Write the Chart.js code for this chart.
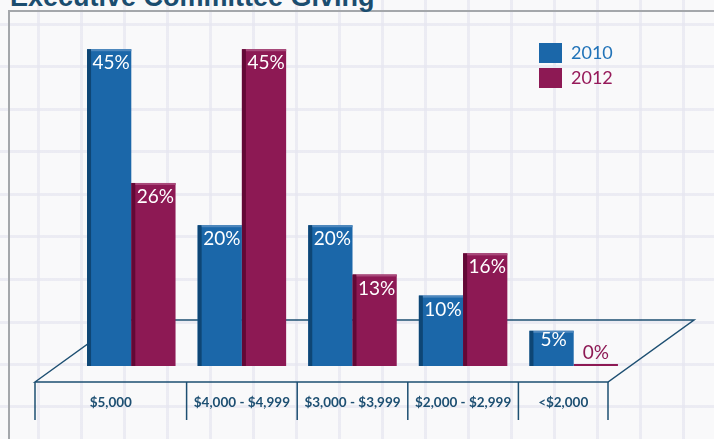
<!DOCTYPE html>
<html>
<head>
<meta charset="utf-8">
<script src="https://cdn.jsdelivr.net/npm/chart.js@4"></script>
<style>
  html, body { margin: 0; padding: 0; }
  body {
    width: 714px; height: 439px; overflow: hidden; position: relative;
    background-color: #f9f9fa;
    background-image:
      repeating-linear-gradient(90deg, transparent 0 37px, rgba(230,230,240,0.7) 37px 40px, transparent 40px 43px),
      repeating-linear-gradient(180deg, transparent 0 23px, rgba(230,230,240,0.7) 23px 26px, transparent 26px 42.5px);
  }
  #frame {
    position: absolute; left: 8px; top: 10px; width: 720px; height: 440px;
    border-top: 2px solid #a4a7ab; border-left: 2px solid #a4a7ab;
  }
  #title {
    position: absolute; left: 10px; top: -16px; margin: 0;
    font: bold 27px "Liberation Sans", Arial, sans-serif; line-height: 1;
    color: #1b4d6f; white-space: nowrap;
  }
  #chart { position: absolute; left: 0; top: 0; }
</style>
</head>
<body>
<div id="frame"></div>
<h1 id="title">Executive Committee Giving</h1>
<canvas id="chart" width="714" height="439"></canvas>
<script>
// ================== DATA ==================
const categories = ['$5,000', '$4,000 - $4,999', '$3,000 - $3,999', '$2,000 - $2,999', '<$2,000'];
const seriesNames = ['2010', '2012'];
const values2010 = [45, 20, 20, 10, 5];
const values2012 = [26, 45, 13, 16, 0];
const yMax = 50;

// ================== STYLE ==================
const FONT = 'Lato, "Open Sans", sans-serif';
const NAVY = '#1d4f72';
const faceColors = ['#1b67a9', '#8d1954'];
const sideColors = ['#0e4675', '#630836'];
const capColors = ['#4f88bd', '#a94a7b'];
const legendText = ['#2173b8', '#961a5a'];

// floor (3d base) + category table under the bars
const floorPlugin = {
  id: 'floor',
  beforeDatasetsDraw(chart) {
    const { ctx } = chart;
    const xs = chart.scales.x;
    const base = chart.scales.y.getPixelForValue(0);
    const frontY = base + 16, backY = base - 46;
    const fl = xs.left - 41, fr = xs.right - 21;
    const depth = 86;

    ctx.save();
    ctx.strokeStyle = NAVY;
    ctx.lineWidth = 1.5;
    ctx.beginPath();
    ctx.moveTo(fl, frontY);
    ctx.lineTo(fl + depth, backY);
    ctx.lineTo(fr + depth, backY);
    ctx.lineTo(fr, frontY);
    ctx.closePath();
    ctx.stroke();

    // table columns
    const step = xs.getPixelForValue(1) - xs.getPixelForValue(0);
    const edges = [fl];
    for (let i = 0; i < categories.length - 1; i++) edges.push(xs.getPixelForValue(i) + step / 2);
    edges.push(fr);
    edges.forEach(x => {
      ctx.beginPath();
      ctx.moveTo(x, frontY);
      ctx.lineTo(x, frontY + 38);
      ctx.stroke();
    });
    ctx.fillStyle = NAVY;
    ctx.font = 'bold 13.5px ' + FONT;
    ctx.textAlign = 'center';
    ctx.textBaseline = 'middle';
    categories.forEach((c, i) => {
      ctx.fillText(c, (edges[i] + edges[i + 1]) / 2, frontY + 21);
    });
    ctx.restore();
  },

  afterDatasetsDraw(chart) {
    const { ctx } = chart;
    ctx.save();
    ctx.font = '19px ' + FONT;
    ctx.textAlign = 'center';
    ctx.textBaseline = 'middle';
    chart.data.datasets.forEach((ds, di) => {
      const meta = chart.getDatasetMeta(di);
      meta.data.forEach((bar, i) => {
        const v = ds.data[i];
        const left = bar.x - bar.width / 2;
        const h = bar.base - bar.y;
        if (v > 0) {
          ctx.fillStyle = sideColors[di];
          ctx.fillRect(left, bar.y, 4, h);
          ctx.fillStyle = capColors[di];
          ctx.fillRect(left + 4, bar.y, bar.width - 4, 2);
          ctx.fillStyle = '#ffffff';
          ctx.fillText(v + '%', bar.x + 2, bar.y + Math.min(14, h * 0.27));
        } else {
          ctx.fillStyle = faceColors[di];
          ctx.fillText(v + '%', bar.x, bar.base - 13);
        }
      });
    });
    ctx.restore();
  },

  afterDraw(chart) {
    const { ctx } = chart;
    const x0 = chart.chartArea.right - 90;
    ctx.save();
    ctx.font = '18px ' + FONT;
    ctx.textAlign = 'left';
    ctx.textBaseline = 'middle';
    chart.data.datasets.forEach((ds, di) => {
      const y = 43 + di * 25;
      ctx.fillStyle = faceColors[di];
      ctx.fillRect(x0, y, 23, 20);
      ctx.fillStyle = legendText[di];
      ctx.fillText(ds.label, x0 + 32, y + 10);
    });
    ctx.restore();
  }
};

new Chart(document.getElementById('chart').getContext('2d'), {
  type: 'bar',
  data: {
    labels: categories,
    datasets: [
      { label: seriesNames[0], data: values2010, backgroundColor: faceColors[0] },
      { label: seriesNames[1], data: values2012, backgroundColor: faceColors[1], minBarLength: 2 }
    ]
  },
  options: {
    responsive: false,
    animation: false,
    layout: { padding: { left: 76, right: 85, top: 14, bottom: 73 } },
    datasets: { bar: { categoryPercentage: 0.8, barPercentage: 1.0 } },
    scales: {
      x: { display: false },
      y: { display: false, min: 0, max: yMax }
    },
    plugins: {
      legend: { display: false },
      tooltip: { enabled: false }
    }
  },
  plugins: [floorPlugin]
});
</script>
</body>
</html>
